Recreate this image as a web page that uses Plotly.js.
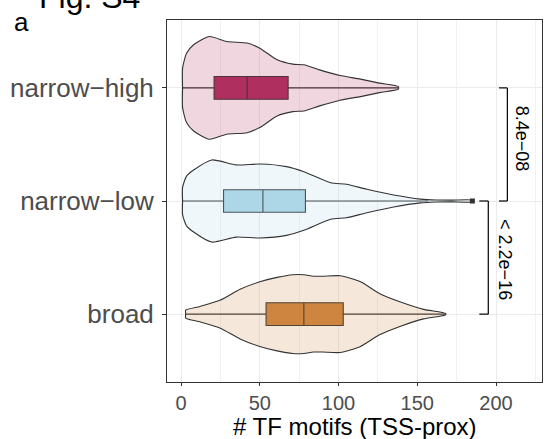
<!DOCTYPE html>
<html>
<head>
<meta charset="utf-8">
<script src="https://cdn.plot.ly/plotly-3.0.1.min.js"></script>
<style>html,body{margin:0;padding:0;background:#fff;}#chart{width:551px;height:439px;}</style>
</head>
<body>
<div id="chart"></div>
<script>
// categories (top to bottom) and their positions on the numeric y axis
const categories = ["narrow\u2212high", "narrow\u2212low", "broad"];
const catPos = [2, 1, 0];
const boxColors = ["#B03060", "#ADD8E6", "#CD853F"];
const violinFills = ["rgba(176,48,96,0.2)", "rgba(173,216,230,0.2)", "rgba(205,133,63,0.2)"];

// violin density profiles (value, half-width in category units)
const nhX = [1, 1, 3.5, 8, 18, 29, 42, 50, 61, 71, 78, 88, 101, 114, 126, 138];
const nhW = [0, 0.174, 0.307, 0.381, 0.454, 0.410, 0.396, 0.351, 0.248, 0.210, 0.204, 0.159, 0.109, 0.077, 0.042, 0.012];
const nlX = [1, 1, 3.5, 8, 19.5, 35, 50, 67, 78, 95, 105, 118, 135, 152, 162, 172, 185];
const nlW = [0, 0.121, 0.22, 0.274, 0.363, 0.319, 0.327, 0.304, 0.259, 0.162, 0.148, 0.104, 0.053, 0.017, 0.009, 0.008, 0.008];
const brX = [3, 3, 12, 25, 37.5, 50, 61, 71, 78, 84, 90, 101, 114, 126, 139, 154, 168];
const brW = [0, 0.035, 0.068, 0.124, 0.219, 0.286, 0.325, 0.348, 0.348, 0.335, 0.335, 0.339, 0.286, 0.183, 0.109, 0.042, 0.006];

// box statistics
const q1 = [21, 27, 54];
const median = [42, 52, 78];
const q3 = [68, 79, 103];
const lowerFence = [1, 1, 3];
const upperFence = [138, 157, 168];
const outlierX = [185];
const outlierCat = [1];

// significance comparisons
const pValues = ["8.4e\u221208", "< 2.2e\u221216"];
const pairs = [[2, 1], [1, 0]];

const profiles = [[nhX, nhW], [nlX, nlW], [brX, brW]];
const traces = [];
profiles.forEach(([xs, ws], i) => {
  const c = catPos[i];
  const px = [], py = [];
  for (let k = 0; k < xs.length; k++) { px.push(xs[k]); py.push(c + ws[k]); }
  for (let k = xs.length - 1; k >= 0; k--) { px.push(xs[k]); py.push(c - ws[k]); }
  px.push(px[0]); py.push(py[0]);
  traces.push({
    type: "scatter", mode: "lines", x: px, y: py,
    fill: "toself", fillcolor: violinFills[i],
    line: {color: "#333333", width: 1.1, shape: "spline", smoothing: 0.6},
    hoverinfo: "skip", showlegend: false
  });
});
for (let i = 0; i < 3; i++) {
  traces.push({
    type: "box", orientation: "h", y: [catPos[i]],
    q1: [q1[i]], median: [median[i]], q3: [q3[i]],
    lowerfence: [lowerFence[i]], upperfence: [upperFence[i]],
    width: 0.2, whiskerwidth: 0, fillcolor: boxColors[i],
    line: {color: "#333333", width: 1.1}, boxpoints: false, showlegend: false
  });
}
traces.push({
  type: "scatter", mode: "markers", x: outlierX, y: outlierCat,
  marker: {color: "#333333", size: 5, symbol: "square"}, showlegend: false
});

// brackets
const bracketX = [207.2, 195.1];
const bracketTickX = [201.9, 189.4];
const labelX = [216.3, 205.7];
const labelY = [1.553, 0.478];
const shapes = [];
const annotations = [];
pairs.forEach((p, i) => {
  const ln = {color: "#000000", width: 1.2};
  shapes.push({type: "line", xref: "x", yref: "y", x0: bracketX[i], x1: bracketX[i], y0: p[0], y1: p[1], line: ln});
  shapes.push({type: "line", xref: "x", yref: "y", x0: bracketTickX[i], x1: bracketX[i], y0: p[0], y1: p[0], line: ln});
  shapes.push({type: "line", xref: "x", yref: "y", x0: bracketTickX[i], x1: bracketX[i], y0: p[1], y1: p[1], line: ln});
  annotations.push({
    x: labelX[i], y: labelY[i], xref: "x", yref: "y",
    text: pValues[i], showarrow: false, textangle: 90,
    font: {family: "Liberation Sans, Arial, sans-serif", size: 18, color: "#000000"}
  });
});
annotations.push({
  x: -0.347, y: 1.008, xref: "paper", yref: "paper", xanchor: "left", yanchor: "bottom",
  text: "Fig. S4", showarrow: false,
  font: {family: "Liberation Sans, Arial, sans-serif", size: 32, color: "#000000"}
});
annotations.push({
  x: -0.413, y: 0.994, xref: "paper", yref: "paper", xanchor: "left", yanchor: "middle",
  text: "a", showarrow: false,
  font: {family: "Liberation Sans, Arial, sans-serif", size: 26, color: "#000000"}
});
annotations.push({
  x: 0.5, y: -0.123, xref: "paper", yref: "paper", xanchor: "center", yanchor: "middle",
  text: "# TF motifs (TSS-prox)", showarrow: false, borderpad: 0,
  font: {family: "Liberation Sans, Arial, sans-serif", size: 24, color: "#000000"}
});

const layout = {
  width: 551, height: 439,
  margin: {l: 167, r: 9, t: 20, b: 57, pad: 0},
  paper_bgcolor: "#ffffff", plot_bgcolor: "#ffffff",
  showlegend: false,
  font: {family: "Liberation Sans, Arial, sans-serif"},
  xaxis: {
    range: [-8.9, 229.2], tickvals: [0, 50, 100, 150, 200], ticktext: ["0", "50", "100", "150", "200"],
    showgrid: true, gridcolor: "#EBEBEB", gridwidth: 1,
    minor: {tickvals: [25, 75, 125, 175, 225], showgrid: true, gridcolor: "#F2F2F2", gridwidth: 1, ticks: ""},
    zeroline: false, showline: true, mirror: true, linecolor: "#333333", linewidth: 1,
    ticks: "outside", ticklen: 3, tickcolor: "#333333",
    tickfont: {size: 20, color: "#4D4D4D"}
  },
  yaxis: {
    range: [-0.6, 2.6], tickvals: catPos, ticktext: categories,
    showgrid: true, gridcolor: "#EBEBEB", gridwidth: 1,
    zeroline: false, showline: true, mirror: true, linecolor: "#333333", linewidth: 1,
    ticks: "outside", ticklen: 4, tickcolor: "#333333", ticklabelstandoff: 3,
    tickfont: {size: 26, color: "#4D4D4D"}
  },
  shapes: shapes,
  annotations: annotations
};
Plotly.newPlot("chart", traces, layout, {displayModeBar: false, staticPlot: true});
</script>
</body>
</html>
